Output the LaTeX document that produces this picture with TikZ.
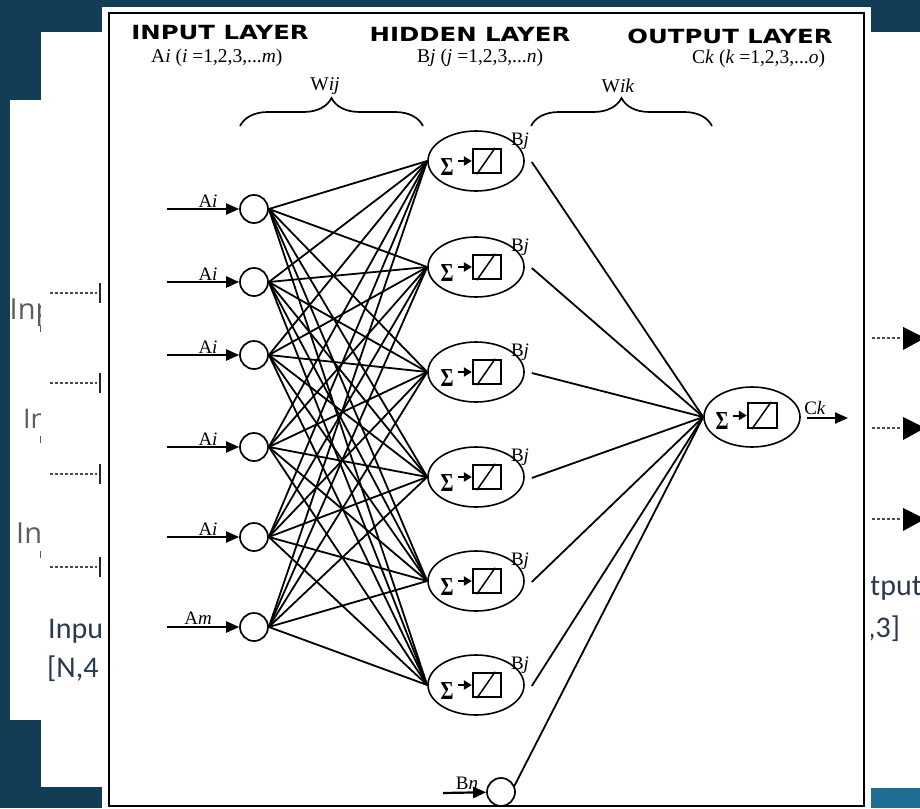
\documentclass[tikz,border=0pt]{standalone}
\usepackage{fontspec}
\usepackage{graphicx}
\setmainfont{Liberation Serif}
\newfontfamily\titlefont{DejaVu Sans}
\newfontfamily\slidefont{Carlito}
\newfontfamily\slidelight{Open Sans}
\usetikzlibrary{arrows.meta,shapes.geometric,calc,decorations.pathreplacing}
\definecolor{navy}{HTML}{133C55}
\definecolor{bandblue}{HTML}{1F6F94}
\definecolor{slidetext}{HTML}{2B3950}
\definecolor{softgray}{HTML}{5C5C5C}
\definecolor{dotgray}{HTML}{4A4A4A}
\newcommand{\sumsign}{\resizebox{13pt}{17pt}{\bfseries Σ}}

\begin{document}
\begin{tikzpicture}[x=1pt,y=-1pt,
  wire/.style={line width=1.8pt},
  inarrow/.style={line width=2.2pt,-{Triangle[length=13pt,width=11pt]}},
  smallarrow/.style={line width=2pt,-{Triangle[length=8pt,width=9pt]}},
  neuron/.style={draw,line width=1.7pt,circle,minimum size=28pt,inner sep=0pt},
  unit/.style={draw,line width=1.6pt,ellipse,minimum width=96pt,minimum height=60pt,inner sep=0pt},
  sigma/.style={inner sep=0pt},
  actbox/.style={draw,line width=2.3pt,minimum width=28pt,minimum height=24pt,inner sep=0pt},
  ramp/.style={line width=1.5pt},
  lbl/.style={font=\fontsize{19}{20}\selectfont,inner sep=0pt},
  sub/.style={font=\fontsize{19.5}{22}\selectfont,inner sep=0pt},
  layertitle/.style={font=\titlefont\bfseries\fontsize{19.5}{19.5}\selectfont,inner sep=0pt},
  curly/.style={line width=1.7pt,decorate,decoration={brace,amplitude=28pt,aspect=0.5}},
  ghost/.style={font=\slidelight\fontsize{29}{29}\selectfont,text=softgray,inner sep=0pt,anchor=base west},
  slidetxt/.style={font=\slidefont\fontsize{30}{30}\selectfont,text=slidetext,inner sep=0pt,anchor=base west},
  leader/.style={line width=2pt,dotgray,dash pattern=on 2.5pt off 2.5pt},
  stopbar/.style={line width=2.5pt,black!85},
]
\useasboundingbox (0,0) rectangle (920,808);
\clip (0,0) rectangle (920,808);

% slide backdrop
\fill[navy] (0,0) rectangle (920,808);
\fill[white] (10,100) rectangle (102,720);
\node[ghost] (g1) at (9.5,319) {Inp};
\node[ghost,font=\slidelight\fontsize{27}{27}\selectfont] (g2) at (23,428) {In};
\node[ghost] (g3) at (16,543) {Inp};
\foreach \y in {325,436,551} \draw[softgray,line width=1pt] (40.5,\y) -- (40.5,\y+7);
\fill[white] (41,32) rectangle (102,787);
\fill[white] (871,32) rectangle (920,788);
\fill[bandblue] (871,788) rectangle (920,808);

% input leaders on the slide
\foreach \y in {293,383,474,567} {
  \draw[leader] (50,\y) -- (97,\y);
  \draw[stopbar] (100,\y-10) -- (100,\y+10);
}
\node[slidetxt] (inlbl) at (48,638) {Inpu};
\node[slidetxt] (inshape) at (47,677) {[N,4};

% output leaders on the slide
\foreach \y in {338,428,519} {
  \draw[leader] (872,\y) -- (900,\y);
  \fill[black] (903,\y-11) -- (925,\y) -- (903,\y+12) -- cycle;
}
\node[slidetxt] (outlbl) at (870,595) {tput};
\node[slidetxt] (outshape) at (868,637) {,3]};

% network panel
\fill[white] (102,7) rectangle (871,808);
\draw[line width=2.4pt] (109,13) rectangle (864,806);

\node[layertitle] (tin) at (220,33) {\scalebox{1.25}[1]{INPUT LAYER}};
\node[layertitle] (thid) at (470,34) {\scalebox{1.25}[1]{HIDDEN LAYER}};
\node[layertitle] (tout) at (730,36) {\scalebox{1.25}[1]{OUTPUT LAYER}};

\node[sub,anchor=west] (sin) at (151,58) {A\textit{i} (\textit{i} =1,2,3,...\textit{m})};
\node[sub,anchor=west] (shid) at (417,58) {B\textit{j} (\textit{j} =1,2,3,...\textit{n})};
\node[sub,anchor=west] (sout) at (692,59) {C\textit{k} (\textit{k} =1,2,3,...\textit{o})};

\node[sub] (wij) at (325,86) {W\textit{ij}};
\node[sub] (wik) at (618,86) {W\textit{ik}};
\draw[curly] (240,126) -- (423,126);
\draw[curly] (531,126) -- (712,126);

% output unit
\node[unit] (out) at (752,417) {};
\node[sigma] (os) at ($(out)+(-30,4)$) {\sumsign};
\node[actbox,minimum width=29pt,minimum height=25pt] (ob) at ($(out)+(10.5,-1.5)$) {};
\draw[smallarrow,shorten <=4pt] (os.east |- ob.west) -- (ob.west);
\draw[ramp] ($(ob.south west)+(5,0)$) -- ($(ob.north east)+(-7,0)$);
\coordinate (ck) at (848,418);
\draw[inarrow] ($(out.east)+(6,1)$) -- (ck);
\node[lbl,anchor=south] (cklbl) at (815,415) {C\textit{k}};

% hidden units
\foreach \i/\y in {1/161,2/267,3/372,4/477,5/581,6/685} {
  \node[unit] (h\i) at (476,\y) {};
  \node[sigma] (hs\i) at ($(h\i)+(-29,6)$) {\sumsign};
  \node[actbox] (hb\i) at ($(h\i)+(11,0)$) {};
  \draw[smallarrow,shorten <=4pt] (hs\i.east |- hb\i.west) -- (hb\i.west);
  \draw[ramp] ($(hb\i.south west)+(5,0)$) -- ($(hb\i.north east)+(-7,0)$);
  \node[lbl] (hl\i) at ($(h\i)+(44,-20)$) {B\textit{j}};
  \draw[wire] ($(h\i.east)+(7,1)$) -- (out.west);
}

% bias unit
\node[neuron] (bn) at (501,792) {};
\coordinate (bsrc) at (443,793);
\draw[inarrow] (bsrc) -- (bn);
\node[lbl,anchor=south] (bnlbl) at (467,790) {B\textit{n}};
\draw[wire] (bn.25) -- (out.west);

% input units
\foreach \i/\y in {1/209,2/282,3/355,4/447,5/537,6/627} {
  \node[neuron] (in\i) at (254,\y) {};
  \coordinate (src\i) at (167,\y);
  \draw[inarrow] (src\i) -- (in\i);
  \foreach \j in {1,...,6} \draw[wire] (in\i.east) -- (h\j.west);
}
\foreach \i/\y in {1/209,2/282,3/355,4/447,5/537} {
  \node[lbl,anchor=south] (al\i) at (208,\y-1) {A\textit{i}};
}
\node[lbl,anchor=south] (aml) at (198,625) {A\textit{m}};
\end{tikzpicture}
\end{document}
